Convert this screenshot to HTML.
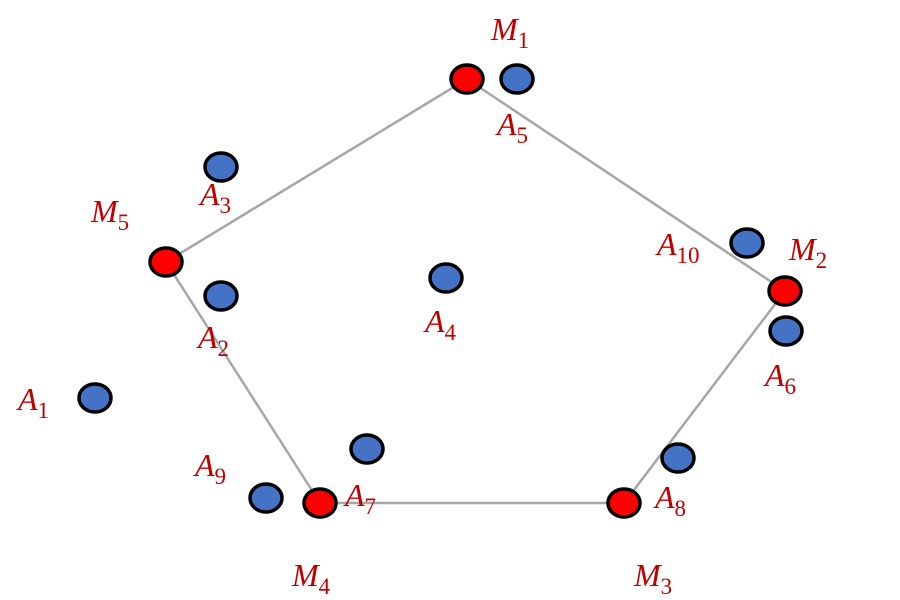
<!DOCTYPE html>
<html><head><meta charset="utf-8"><style>html,body{margin:0;padding:0;background:#fff;}svg{display:block}</style></head>
<body>
<svg width="900" height="600" viewBox="0 0 900 600" xmlns="http://www.w3.org/2000/svg">
<polygon points="467,79 785,291 624,503 320,503 166,262" fill="none" stroke="#a6a6a6" stroke-width="2.5"/>
<g stroke="#000" stroke-width="3.5">
<g fill="#4472c4">
<ellipse cx="517" cy="79" rx="16" ry="14"/>
<ellipse cx="747" cy="243" rx="16" ry="14"/>
<ellipse cx="786" cy="331" rx="16" ry="14"/>
<ellipse cx="221" cy="167" rx="16" ry="14"/>
<ellipse cx="221" cy="296" rx="16" ry="14"/>
<ellipse cx="446" cy="278" rx="16" ry="14"/>
<ellipse cx="95" cy="398" rx="16" ry="14"/>
<ellipse cx="367" cy="449" rx="16" ry="14"/>
<ellipse cx="266" cy="498" rx="16" ry="14"/>
<ellipse cx="678" cy="458" rx="16" ry="14"/>
</g>
<g fill="#ff0000">
<ellipse cx="467" cy="79" rx="16" ry="14"/>
<ellipse cx="785" cy="291" rx="16" ry="14"/>
<ellipse cx="624" cy="503" rx="16" ry="14"/>
<ellipse cx="320" cy="503" rx="16" ry="14"/>
<ellipse cx="166" cy="262" rx="16" ry="14"/>
</g>
</g>
<g fill="#c00000" font-family="Liberation Serif, serif" font-style="italic" font-size="32">
<text x="491" y="40">M<tspan font-style="normal" font-size="23" dy="8">1</tspan></text>
<text x="497" y="135">A<tspan font-style="normal" font-size="23" dy="8">5</tspan></text>
<text x="91" y="222">M<tspan font-style="normal" font-size="23" dy="8">5</tspan></text>
<text x="200" y="205">A<tspan font-style="normal" font-size="23" dy="8">3</tspan></text>
<text x="789" y="260">M<tspan font-style="normal" font-size="23" dy="8">2</tspan></text>
<text x="657" y="255">A<tspan font-style="normal" font-size="23" dy="8">10</tspan></text>
<text x="765" y="386">A<tspan font-style="normal" font-size="23" dy="8">6</tspan></text>
<text x="425" y="332">A<tspan font-style="normal" font-size="23" dy="8">4</tspan></text>
<text x="198" y="348">A<tspan font-style="normal" font-size="23" dy="8">2</tspan></text>
<text x="18" y="410">A<tspan font-style="normal" font-size="23" dy="8">1</tspan></text>
<text x="195" y="476">A<tspan font-style="normal" font-size="23" dy="8">9</tspan></text>
<text x="345" y="506">A<tspan font-style="normal" font-size="23" dy="8">7</tspan></text>
<text x="655" y="508">A<tspan font-style="normal" font-size="23" dy="8">8</tspan></text>
<text x="292" y="586">M<tspan font-style="normal" font-size="23" dy="8">4</tspan></text>
<text x="634" y="586">M<tspan font-style="normal" font-size="23" dy="8">3</tspan></text>
</g>
</svg>
</body></html>
